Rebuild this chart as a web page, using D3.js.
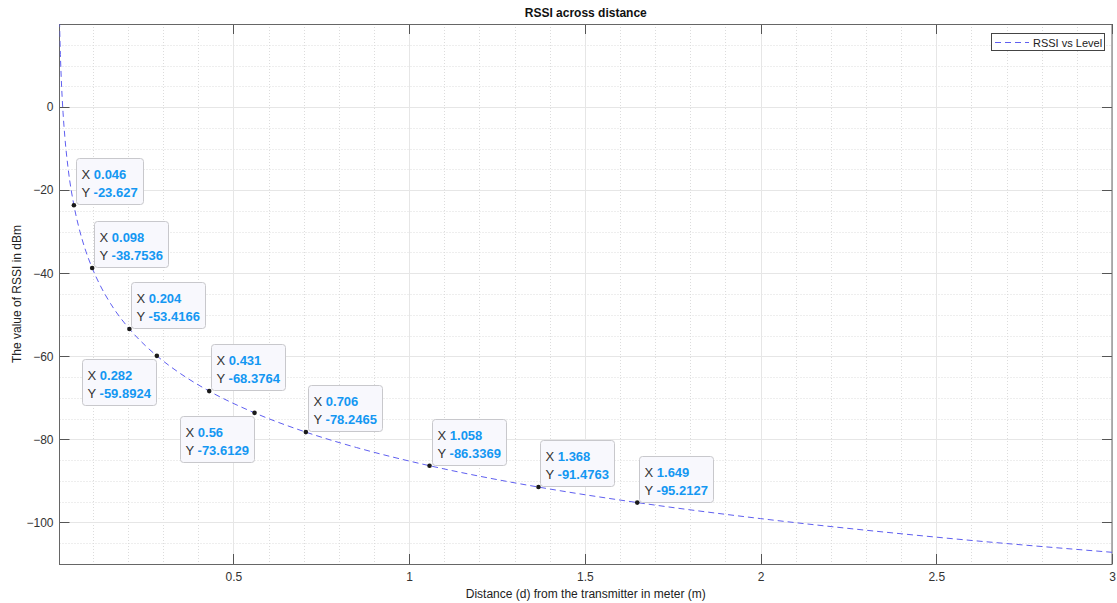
<!DOCTYPE html>
<html>
<head>
<meta charset="utf-8">
<script src="https://cdn.jsdelivr.net/npm/d3@7"></script>
<style>
  body { margin: 0; background: #fff; }
  svg { font-family: "Liberation Sans", Arial, sans-serif; }
</style>
</head>
<body>
<div class="board"></div>
<script>
// RSSI curve
const curveX = [0.005, 0.0075, 0.01, 0.015, 0.02, 0.03, 0.046, 0.06, 0.08, 0.098, 0.12, 0.15, 0.204, 0.25, 0.282, 0.35, 0.431, 0.56, 0.706, 0.85, 1.058, 1.2, 1.368, 1.649, 2, 2.5, 3];
const curveY = [20.76, 12.65, 6.89, -1.22, -6.97, -15.08, -23.63, -28.94, -34.70, -38.75, -42.80, -47.27, -53.42, -57.48, -59.89, -64.21, -68.38, -73.61, -78.25, -81.96, -86.34, -88.86, -91.48, -95.21, -99.07, -103.54, -107.18];

// data tips
const tipX = [0.046, 0.098, 0.204, 0.282, 0.431, 0.56, 0.706, 1.058, 1.368, 1.649];
const tipY = [-23.627, -38.7536, -53.4166, -59.8924, -68.3764, -73.6129, -78.2465, -86.3369, -91.4763, -95.2127];

const xTicks = [0.5, 1, 1.5, 2, 2.5, 3];
const yTicks = [-100, -80, -60, -40, -20, 0];

const W = 1117, H = 603;
const pLeft = 59.5, pRight = 1112, pTop = 24, pBottom = 564;

let svg = d3.select(".board").append("svg")
  .attr("width", W)
  .attr("height", H);

let x = d3.scaleLinear().domain([0.005, 3]).range([pLeft, pRight]);
let y = d3.scaleLinear().domain([-110, 20]).range([pBottom, pTop]);

// minor grid
let minorX = d3.range(1, 30).map(i => i / 10).filter(v => xTicks.indexOf(v) < 0);
let minorY = d3.range(-110, 21, 5).filter(v => yTicks.indexOf(v) < 0 && v > -110 && v < 20);

svg.append("g").selectAll("line").data(minorX).join("line")
  .attr("x1", d => Math.round(x(d)) + 0.5).attr("x2", d => Math.round(x(d)) + 0.5)
  .attr("y1", pTop).attr("y2", pBottom)
  .attr("stroke", "#dcdcdc").attr("stroke-dasharray", "1,2");
svg.append("g").selectAll("line").data(minorY).join("line")
  .attr("y1", d => Math.round(y(d)) + 0.5).attr("y2", d => Math.round(y(d)) + 0.5)
  .attr("x1", pLeft).attr("x2", pRight)
  .attr("stroke", "#dcdcdc").attr("stroke-dasharray", "1,2");

// major grid
svg.append("g").selectAll("line").data(xTicks).join("line")
  .attr("x1", d => Math.round(x(d)) + 0.5).attr("x2", d => Math.round(x(d)) + 0.5)
  .attr("y1", pTop).attr("y2", pBottom)
  .attr("stroke", "#e6e6e6");
svg.append("g").selectAll("line").data(yTicks).join("line")
  .attr("y1", d => Math.round(y(d)) + 0.5).attr("y2", d => Math.round(y(d)) + 0.5)
  .attr("x1", pLeft).attr("x2", pRight)
  .attr("stroke", "#e6e6e6");

// axes
let xAxis = d3.axisBottom(x).tickValues(xTicks).tickSize(0).tickPadding(8).tickFormat(d3.format("~g"));
let yAxis = d3.axisLeft(y).tickValues(yTicks).tickSize(0).tickPadding(6).tickFormat(d3.format("~g"));

let gx = svg.append("g").attr("transform", `translate(0,${pBottom})`).call(xAxis);
let gy = svg.append("g").attr("transform", `translate(${pLeft},0)`).call(yAxis);
[gx, gy].forEach(g => {
  g.select(".domain").remove();
  g.selectAll("text").attr("fill", "#333").style("font-size", "12px").style("font-family", "'Liberation Sans', Arial, sans-serif");
});

// inward ticks on all four sides
let tickLen = 10;
let tk = svg.append("g").attr("stroke", "#555");
xTicks.forEach(v => {
  let px = Math.round(x(v)) + 0.5;
  tk.append("line").attr("x1", px).attr("x2", px).attr("y1", pBottom).attr("y2", pBottom - tickLen);
  tk.append("line").attr("x1", px).attr("x2", px).attr("y1", pTop).attr("y2", pTop + tickLen);
});
yTicks.forEach(v => {
  let py = Math.round(y(v)) + 0.5;
  tk.append("line").attr("y1", py).attr("y2", py).attr("x1", pLeft).attr("x2", pLeft + tickLen);
  tk.append("line").attr("y1", py).attr("y2", py).attr("x1", pRight).attr("x2", pRight - tickLen);
});

svg.append("rect")
  .attr("x", pLeft).attr("y", pTop + 0.5)
  .attr("width", pRight - pLeft).attr("height", pBottom - pTop)
  .attr("fill", "none").attr("stroke", "#666");

// curve
svg.append("clipPath").attr("id", "plotClip").append("rect")
  .attr("x", pLeft).attr("y", pTop).attr("width", pRight - pLeft).attr("height", pBottom - pTop);

let line = d3.line()
  .x((d, i) => x(curveX[i]))
  .y(d => y(d))
  .curve(d3.curveMonotoneX);

svg.append("path")
  .datum(curveY)
  .attr("clip-path", "url(#plotClip)")
  .attr("d", line)
  .attr("fill", "none")
  .attr("stroke", "#5f5ff0")
  .attr("stroke-width", 1)
  .attr("stroke-dasharray", "6,4");

// data tips
const belowLeft = [3, 5];
tipX.forEach((tx, i) => {
  let px = x(tx), py = y(tipY[i]);
  let g = svg.append("g");
  let box = g.append("rect")
    .attr("rx", 3).attr("ry", 3)
    .attr("fill", "#f8f8fd").attr("stroke", "#c8c8cc");
  let t1 = g.append("text").attr("font-size", 13);
  t1.append("tspan").attr("fill", "#333").text("X ");
  t1.append("tspan").attr("fill", "#1497f2").attr("font-weight", "bold").text(String(tx));
  let t2 = g.append("text").attr("font-size", 13);
  t2.append("tspan").attr("fill", "#333").text("Y ");
  t2.append("tspan").attr("fill", "#1497f2").attr("font-weight", "bold").text(String(tipY[i]));

  let tw = Math.max(t1.node().getComputedTextLength(), t2.node().getComputedTextLength());
  let bw = Math.round(tw + 11), bh = 46;
  let bx, by;
  if (belowLeft.indexOf(i) >= 0) {
    bx = px - 1 - bw;
    by = py + 3;
  } else {
    bx = px + 2;
    by = py - 1 - bh;
  }
  bx = Math.round(bx) + 0.5;
  by = Math.round(by) + 0.5;
  box.attr("x", bx).attr("y", by).attr("width", bw).attr("height", bh);
  t1.attr("x", bx + 5).attr("y", by + 20);
  t2.attr("x", bx + 5).attr("y", by + 38);

  svg.append("circle").attr("cx", px).attr("cy", py).attr("r", 2.3).attr("fill", "#1a1a1a");
});

// legend
let lg = svg.append("g");
lg.append("rect").attr("x", 991.5).attr("y", 33.5).attr("width", 113).attr("height", 17)
  .attr("fill", "#fff").attr("stroke", "#444");
lg.append("line").attr("x1", 995).attr("x2", 1029).attr("y1", 42.5).attr("y2", 42.5)
  .attr("stroke", "#5f5ff0").attr("stroke-dasharray", "6,4");
lg.append("text").attr("x", 1033).attr("y", 46.5).attr("font-size", 11).attr("fill", "#222").text("RSSI vs Level");

// title and labels
svg.append("text").attr("x", (pLeft + pRight) / 2).attr("y", 17).attr("text-anchor", "middle")
  .attr("font-size", 12).attr("font-weight", "bold").attr("fill", "#111").text("RSSI across distance");
svg.append("text").attr("x", (pLeft + pRight) / 2).attr("y", 598).attr("text-anchor", "middle")
  .attr("font-size", 12).attr("fill", "#222").text("Distance (d) from the transmitter in meter (m)");
svg.append("text").attr("transform", `translate(21,${(pTop + pBottom) / 2}) rotate(-90)`).attr("text-anchor", "middle")
  .attr("font-size", 12).attr("fill", "#222").text("The value of RSSI in dBm");
</script>
</body>
</html>
